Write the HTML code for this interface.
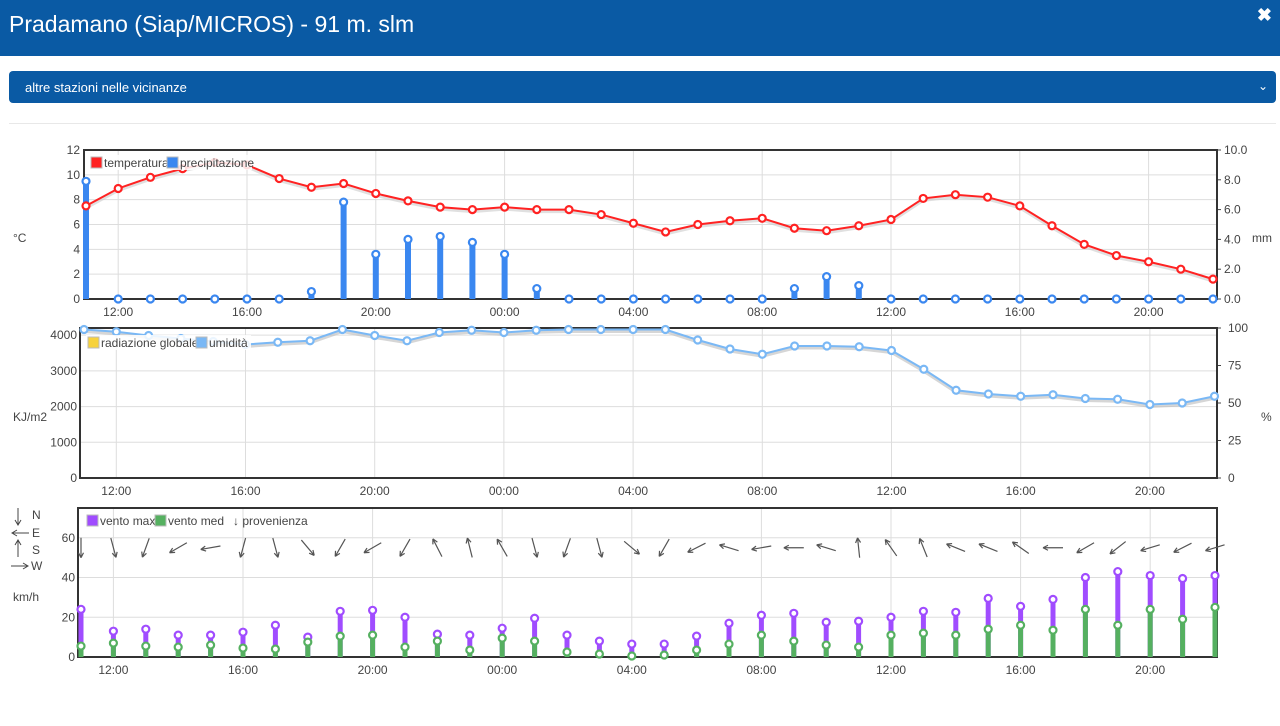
<!DOCTYPE html>
<html><head><meta charset="utf-8"><style>
body{margin:0;width:1280px;height:726px;background:#fff;font-family:"Liberation Sans",sans-serif;overflow:hidden;position:relative}
#hdr{position:absolute;left:0;top:0;width:1280px;height:56px;background:#0a5aa4;color:#fff}
#hdr .t{position:absolute;left:9px;top:11px;font-size:23px}
#hdr .x{position:absolute;right:8px;top:5px;font-size:18px;font-weight:bold}
#dd{position:absolute;left:9px;top:71px;width:1267px;height:32px;background:#0a5aa4;border-radius:4px;color:#fff;font-size:13px}
#dd span{position:absolute;left:16px;top:9px}
#dd i{position:absolute;right:8px;top:8px;font-style:normal;font-size:12px}
#sep{position:absolute;left:9px;top:123px;width:1267px;height:1px;background:#e8e8e8}
svg{position:absolute;left:0;top:0}
text{font-family:"Liberation Sans",sans-serif;fill:#444;font-size:12px}
</style></head><body>
<div id="hdr"><span class="t">Pradamano (Siap/MICROS) - 91 m. slm</span><span class="x">✖</span></div>
<div id="dd"><span>altre stazioni nelle vicinanze</span><i>⌄</i></div>
<div id="sep"></div>
<svg id="s" width="1280" height="726"></svg>
<script>
const hours=["11","12","13","14","15","16","17","18","19","20","21","22","23","00","01","02","03","04","05","06","07","08","09","10","11","12","13","14","15","16","17","18","19","20","21","22"];
const tickLabels=["12:00","16:00","20:00","00:00","04:00","08:00","12:00","16:00","20:00"];
const temperature=[7.5,8.9,9.8,10.5,11,10.8,9.7,9.0,9.3,8.5,7.9,7.4,7.2,7.4,7.2,7.2,6.8,6.1,5.4,6.0,6.3,6.5,5.7,5.5,5.9,6.4,8.1,8.4,8.2,7.5,5.9,4.4,3.5,3.0,2.4,1.6];
const precipitation=[7.9,0,0,0,0,0,0,0.5,6.5,3.0,4.0,4.2,3.8,3.0,0.7,0,0,0,0,0,0,0,0.7,1.5,0.9,0,0,0,0,0,0,0,0,0,0,0];
const humidity=[99,97.5,95,93,91,89,90.5,91.5,99,95,91.5,97,98.5,97,98.5,99,99,99,99,92,86,82.5,88,88,87.5,85,72.5,58.5,56,54.5,55.5,53,52.5,49,50,54.5];
const windMax=[24,13,14,11,11,12.5,16,10,23,23.5,20,11.5,11,14.5,19.5,11,8,6.5,6.5,10.5,17,21,22,17.5,18,20,23,22.5,29.5,25.5,29,40,43,41,39.5,41];
const windMed=[5.5,7,5.5,5,6,4.5,4,7.5,10.5,11,5,8,3.5,9.5,8,2.5,1.5,0.5,1,3.5,6.5,11,8,6,5,11,12,11,14,16,13.5,24,16,24,19,25];
const windFrom=[0,345,20,60,80,15,345,320,30,60,30,153,166,150,345,20,345,310,30,63,107,80,90,107,174,145,158,112,112,125,90,60,52,73,63,73];
const tickIdx=[1,5,9,13,17,21,25,29,33];

const S=document.getElementById('s');const NS='http://www.w3.org/2000/svg';
function el(t,a,txt){const e=document.createElementNS(NS,t);for(const k in a)e.setAttribute(k,a[k]);if(txt!==undefined)e.textContent=txt;S.appendChild(e);return e;}

function frame(x0,x1,y0,y1,xs,leftTicks,lScale,rightTicks,rScale,lx,rx,tickY,name){
  leftTicks.forEach(v=>{const y=lScale(v);el('line',{x1:x0,x2:x1,y1:y,y2:y,stroke:'#ddd'});
    const t=el('text',{x:lx,y:y+4,'text-anchor':'end'},String(v));
    });
  if(rightTicks)rightTicks.forEach(v=>{const y=rScale(v.v);el('line',{x1:x1,x2:x1+4,y1:y,y2:y,stroke:'#444'});
    const t=el('text',{x:rx,y:y+4},v.l);
    });
  tickIdx.forEach((ii,k)=>{const x=xs(ii);el('line',{x1:x,x2:x,y1:y0,y2:y1,stroke:'#ddd'});
    const t=el('text',{x:x,y:tickY,'text-anchor':'middle'},tickLabels[k]);
    });
  const r=el('rect',{x:x0,y:y0,width:x1-x0,height:y1-y0,fill:'none',stroke:'#333','stroke-width':2});
  
}
function marker(x,y,c,nm){const m=el('circle',{cx:x,cy:y,r:3.5,fill:'#fff',stroke:c,'stroke-width':2.2});
  }
function legend(items,x,y,nm){items.forEach(it=>{
  el('rect',{x:x,y:y,width:11,height:11,fill:it.c,stroke:'#bbb'});
  const t=el('text',{x:x+13,y:y+10,'font-size':11},it.l);
  
  x+=13+it.w;});}

// ===== chart 1 =====
{const x0=84,x1=1217,y0=150,y1=299;const xs=i=>86+i*32.2;
 const yl=v=>y1-v/12*(y1-y0);const yr=v=>y1-v/10*(y1-y0);
 frame(x0,x1,y0,y1,xs,[0,2,4,6,8,10,12],yl,[0,2,4,6,8,10].map(v=>({v,l:v.toFixed(1)})),yr,80,1224,316,'temp-chart');
 precipitation.forEach((v,i)=>{const b=el('rect',{x:xs(i)-3,y:yr(v),width:6,height:y1-yr(v),fill:'#3a87f0'});
   });
 const pts=temperature.map((v,i)=>xs(i)+','+yl(v)).join(' ');
 el('polyline',{points:temperature.map((v,i)=>xs(i)+','+(yl(v)+2)).join(' '),fill:'none',stroke:'#ccc','stroke-width':3,opacity:.6});
 const l=el('polyline',{points:pts,fill:'none',stroke:'#f22','stroke-width':2});
 
 temperature.forEach((v,i)=>marker(xs(i),yl(v),'#f22','temperature-point'));
 precipitation.forEach((v,i)=>marker(xs(i),yr(v),'#3a87f0','precip-point'));
 el('rect',{x:90,y:155,width:162,height:15,fill:'#fff',opacity:.85});
 legend([{c:'#f22',l:'temperatura',w:63},{c:'#3a87f0',l:'precipitazione',w:80}],91,157,'legend-entry');
 el('text',{x:13,y:242},'°C');el('text',{x:1252,y:242},'mm');}

// ===== chart 2 =====
{const x0=80,x1=1217,y0=328,y1=478;const xs=i=>84+i*32.3;
 const yl=v=>y1-v/4200*(y1-y0);const yr=v=>y1-v/100*(y1-y0);
 frame(x0,x1,y0,y1,xs,[0,1000,2000,3000,4000],yl,[0,25,50,75,100].map(v=>({v,l:String(v)})),yr,77,1228,495,'humidity-chart');
 el('polyline',{points:humidity.map((v,i)=>xs(i)+','+(yr(v)+2)).join(' '),fill:'none',stroke:'#bbb','stroke-width':3,opacity:.6});
 const l=el('polyline',{points:humidity.map((v,i)=>xs(i)+','+yr(v)).join(' '),fill:'none',stroke:'#7ab8f5','stroke-width':2});
 
 humidity.forEach((v,i)=>marker(xs(i),yr(v),'#7ab8f5','humidity-point'));
 el('rect',{x:86,y:335,width:165,height:15,fill:'#fff',opacity:.85});
 legend([{c:'#f7d23c',l:'radiazione globale',w:95},{c:'#7ab8f5',l:'umidità',w:40}],88,337,'legend-entry');
 el('text',{x:13,y:421},'KJ/m2');el('text',{x:1261,y:421},'%');}

// ===== chart 3 =====
{const x0=78,x1=1217,y0=508,y1=657;const xs=i=>81+i*32.4;
 const yl=v=>y1-v/75*(y1-y0);
 frame(x0,x1,y0,y1,xs,[0,20,40,60],yl,null,null,75,0,674,'wind-chart');
 windMax.forEach((v,i)=>{const b=el('rect',{x:xs(i)-2.5,y:yl(v),width:5,height:y1-yl(v),fill:'#a04cff'});
   });
 windMed.forEach((v,i)=>{const b=el('rect',{x:xs(i)-2.5,y:yl(v),width:5,height:y1-yl(v),fill:'#55b060'});
   });
 windMax.forEach((v,i)=>marker(xs(i),yl(v),'#a04cff','wind-max-point'));
 windMed.forEach((v,i)=>marker(xs(i),yl(v),'#55b060','wind-med-point'));
 windFrom.forEach((d,i)=>{const a=d*Math.PI/180;const dx=-Math.sin(a),dy=Math.cos(a);
   const cx=xs(i),cy=yl(55),L=10;const ex=cx+dx*L,ey=cy+dy*L;
   const g=el('path',{d:`M${cx-dx*L},${cy-dy*L}L${ex},${ey}M${ex},${ey}L${ex-dx*5-dy*2.5},${ey-dy*5+dx*2.5}M${ex},${ey}L${ex-dx*5+dy*2.5},${ey-dy*5-dx*2.5}`,stroke:'#555','stroke-width':1.2,fill:'none'});
   });
 legend([{c:'#a04cff',l:'vento max',w:55},{c:'#55b060',l:'vento med',w:60}],87,515,'legend-entry');
 const p=el('text',{x:233,y:525,'font-size':11},'↓ provenienza');
 el('path',{d:'M18,508L18,524M15,520L18,525L21,520',stroke:'#444',fill:'none'});el('text',{x:32,y:519,'font-size':10},'N');
 el('path',{d:'M13,533L29,533M17,530L12,533L17,536',stroke:'#444',fill:'none'});el('text',{x:32,y:537,'font-size':10},'E');
 el('path',{d:'M18,557L18,541M15,545L18,540L21,545',stroke:'#444',fill:'none'});el('text',{x:32,y:554,'font-size':10},'S');
 el('path',{d:'M11,566L27,566M23,563L28,566L23,569',stroke:'#444',fill:'none'});el('text',{x:31,y:570,'font-size':10},'W');
 el('text',{x:13,y:601,'font-size':11},'km/h');}
</script></body></html>
